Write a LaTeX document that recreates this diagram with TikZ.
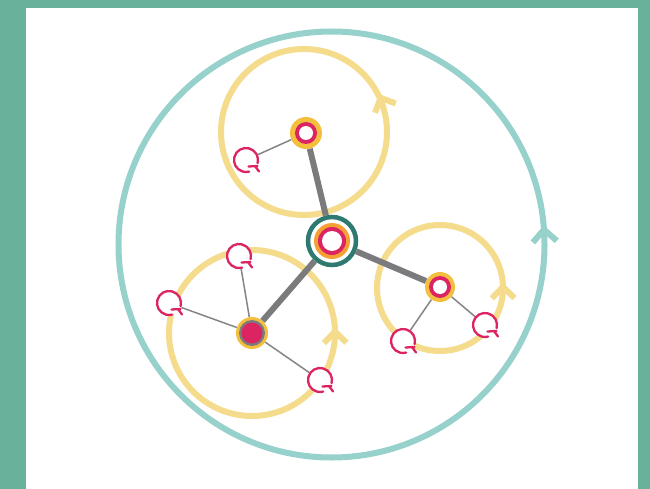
\documentclass[tikz,border=0pt]{standalone}
\usetikzlibrary{calc}
\definecolor{framegreen}{HTML}{6AB19C}
\definecolor{bigteal}{HTML}{96D1CC}
\definecolor{paleyellow}{HTML}{F5DC8C}
\definecolor{nodeyellow}{HTML}{F3BF3D}
\definecolor{hubteal}{HTML}{2E7A70}
\definecolor{hubor}{HTML}{F6A033}
\definecolor{mag}{HTML}{DC2463}
\definecolor{edgegray}{HTML}{7B7B7E}
\definecolor{thingray}{HTML}{858585}
\begin{document}
\begin{tikzpicture}[x=1pt,y=-1pt,
  bigring/.style={draw=bigteal,line width=6pt},
  smallring/.style={draw=paleyellow,line width=6pt},
  chevbig/.style={draw=bigteal,line width=6pt},
  chevsmall/.style={draw=paleyellow,line width=6pt},
  hubnode/.style={circle,minimum size=48pt,inner sep=0pt,fill=white,draw=hubteal,line width=4.5pt},
  subnode/.style={circle,minimum size=32pt,inner sep=0pt,fill=nodeyellow},
  iconnode/.style={circle,minimum size=26pt,inner sep=0pt},
  thick edge/.style={draw=edgegray,line width=6pt},
  thin edge/.style={draw=thingray,line width=1.5pt},
  glyph/.style={draw=mag,line width=2.3pt,line cap=round}]
\useasboundingbox (0,0) rectangle (650,489);
\fill[framegreen] (0,0) rectangle (650,489);
\fill[white] (26,8) rectangle (638,489);

% orbits
\coordinate (oBig) at (331.5,244.5);
\coordinate (oTop) at (304,132);
\coordinate (oBL) at (252,333);
\coordinate (oR) at (440,288);
\draw[bigring] (oBig) circle (213pt);
\draw[smallring] (oTop) circle (83pt);
\draw[smallring] (oBL) circle (83pt);
\draw[smallring] (oR) circle (63pt);

% chevrons (screen angles)
\foreach \c/\r/\p/\s/\st in {oBig/213/-4/17/chevbig, oTop/84/-24/16/chevsmall, oBL/83/-1/16/chevsmall, oR/63/-1/16/chevsmall}{
  \coordinate (tip) at ($(\c)+(\p:\r)$);
  \draw[\st,line join=miter] ($(tip)+(\p+45:\s)$) -- (tip) -- ($(tip)+(\p+135:\s)$);
}

% nodes
\node[hubnode] (hub) at (332,241) {};
\node[subnode,minimum size=32pt] (nt) at (306,133) {};
\node[subnode,minimum size=32pt] (nbl) at (252,333) {};
\node[subnode,minimum size=30pt] (nr) at (440,287) {};

% icons
\node[iconnode] (i1) at (246,160) {};
\node[iconnode] (i2) at (239,256) {};
\node[iconnode] (i3) at (169,303) {};
\node[iconnode] (i4) at (320,380) {};
\node[iconnode] (i5) at (403,341) {};
\node[iconnode] (i6) at (485,325) {};

% edges
\draw[thick edge] (hub) -- (nt);
\draw[thick edge] (hub) -- (nbl);
\draw[thick edge] (hub) -- (nr);
\draw[thin edge] (nt) -- (i1);
\draw[thin edge] (nbl) -- (i2);
\draw[thin edge] (nbl) -- (i3);
\draw[thin edge] (nbl) -- (i4);
\draw[thin edge] (nr) -- (i5);
\draw[thin edge] (nr) -- (i6);

% node decorations
\fill[hubor] (hub.center) circle (18pt);
\fill[mag] (hub.center) circle (14pt);
\fill[white] (hub.center) circle (10pt);

\fill[mag] (nt.center) circle (11pt);
\fill[white] (nt.center) circle (7pt);

\fill[edgegray] (nbl.center) circle (13pt);
\fill[mag] (nbl.center) circle (10.5pt);

\fill[mag] (nr.center) circle (11pt);
\fill[white] (nr.center) circle (7pt);

% icon glyphs (explicit pt offsets: canvas, y up)
\foreach \i in {i1,i2,i3,i4,i5,i6}{
  \fill[white] (\i.center) circle (12pt);
  \draw[glyph] ($(\i.center)+(-15:12pt)$) arc (-15:285:12pt);
  \draw[glyph] ($(\i.center)+(2.5pt,-6.5pt)$) -- ($(\i.center)+(11.5pt,-6pt)$);
  \draw[glyph] ($(\i.center)+(9pt,-6pt)$) -- ($(\i.center)+(13pt,-11.5pt)$);
}
\end{tikzpicture}
\end{document}
